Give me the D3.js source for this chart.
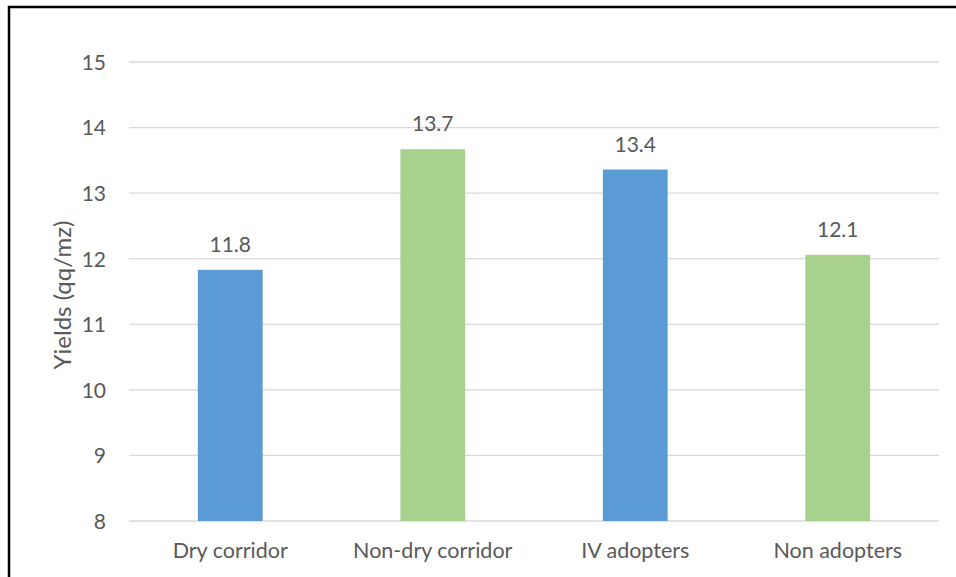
<!DOCTYPE html>
<html>
<head>
<meta charset="utf-8">
<script src="https://cdn.jsdelivr.net/npm/d3@7"></script>
<style>
  body { margin: 0; background: #fff; }
  text { font-family: Lato, "Open Sans", sans-serif; fill: #595959; }
</style>
</head>
<body>
<div id="chart"></div>
<script>
// values
const categories = ["Dry corridor", "Non-dry corridor", "IV adopters", "Non adopters"];
const yields = [11.83, 13.67, 13.36, 12.06];
const labels = ["11.8", "13.7", "13.4", "12.1"];
const colors = ["#5b9bd5", "#a9d18e", "#5b9bd5", "#a9d18e"];
const yTicks = [8, 9, 10, 11, 12, 13, 14, 15];

let w = 956, h = 577;
var svg = d3.select("#chart")
  .append("svg")
  .attr("width", w)
  .attr("height", h);

// chart frame, cropped at right and bottom
svg.append("path")
  .attr("d", "M9,577 V7 H956")
  .attr("fill", "none")
  .attr("stroke", "#000")
  .attr("stroke-width", 2.5);

var x = d3.scaleBand().domain(categories).range([129, 939]).paddingInner(0.68).paddingOuter(0.34);
var y = d3.scaleLinear().domain([8, 15]).range([521, 62]);

// gridlines
svg.append("g").selectAll("line")
  .data(yTicks)
  .join("line")
  .attr("x1", 129).attr("x2", 939)
  .attr("y1", d => y(d)).attr("y2", d => y(d))
  .attr("stroke", "#d9d9d9")
  .attr("stroke-width", 1.3);

// y axis labels
var yAxis = d3.axisLeft(y).tickValues(yTicks).tickFormat(d3.format("d")).tickSize(0).tickPadding(0);
var gy = svg.append("g").attr("transform", "translate(106,0)").call(yAxis);
gy.select(".domain").remove();
gy.selectAll("text").style("font-size", "21px").attr("dy", "0.35em");

// bars
svg.append("g").selectAll("rect")
  .data(categories)
  .join("rect")
  .attr("x", d => x(d))
  .attr("width", x.bandwidth())
  .attr("y", (d, i) => y(yields[i]))
  .attr("height", (d, i) => y(8) - y(yields[i]))
  .attr("fill", (d, i) => colors[i]);

// data labels
svg.append("g").selectAll("text")
  .data(categories)
  .join("text")
  .attr("x", d => x(d) + x.bandwidth() / 2)
  .attr("y", (d, i) => y(yields[i]) - 18)
  .attr("text-anchor", "middle")
  .style("font-size", "21px")
  .text((d, i) => labels[i]);

// x axis labels
var xAxis = d3.axisBottom(x).tickSize(0).tickPadding(0);
var gx = svg.append("g").attr("transform", "translate(0,521)").call(xAxis);
gx.select(".domain").remove();
gx.selectAll("text").style("font-size", "21.5px").attr("y", 37).attr("dy", 0);

// y axis title
svg.append("text")
  .attr("transform", "translate(71,295) rotate(-90)")
  .attr("text-anchor", "middle")
  .style("font-size", "24px")
  .text("Yields (qq/mz)");
</script>
</body>
</html>
